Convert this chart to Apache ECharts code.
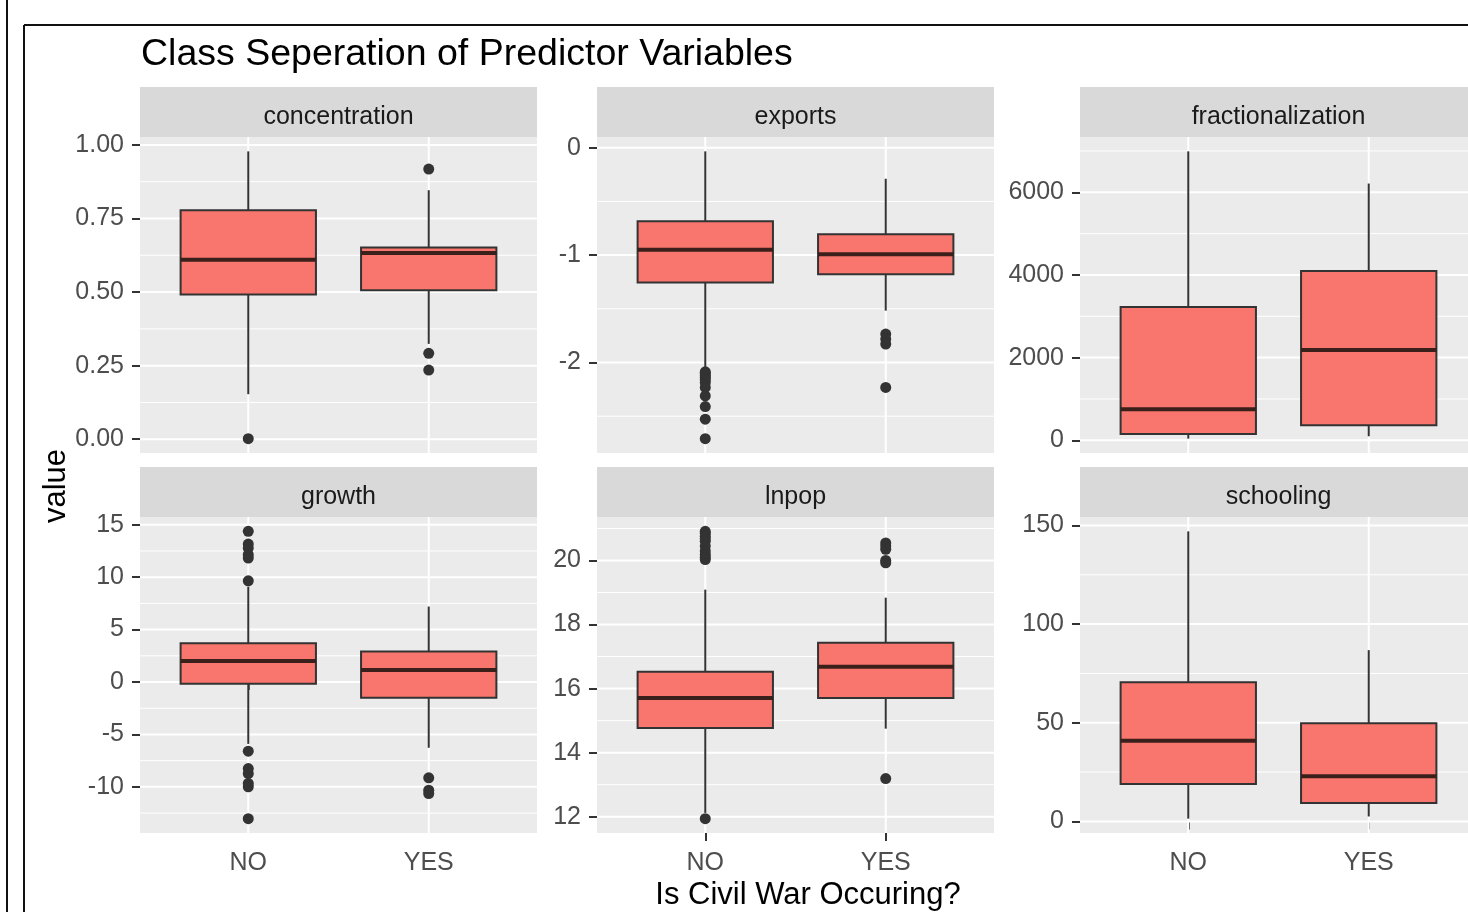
<!DOCTYPE html>
<html>
<head>
<meta charset="utf-8">
<script src="https://cdn.jsdelivr.net/npm/echarts@6/dist/echarts.min.js"></script>
<style>
  html, body { margin: 0; padding: 0; background: #ffffff; }
  #chart { width: 1468px; height: 912px; }
</style>
</head>
<body>
<div id="chart"></div>
<script>
// Group labels on the x axis
const CATEGORIES = ['NO', 'YES'];

// Facet names
const PANEL_NAMES = ['concentration', 'exports', 'fractionalization', 'growth', 'lnpop', 'schooling'];

// Box statistics per group: [lower whisker, Q1, median, Q3, upper whisker]
const concentrationNo  = [0.153, 0.492, 0.610, 0.778, 0.978];
const concentrationYes = [0.324, 0.506, 0.633, 0.651, 0.846];
const exportsNo  = [-2.06, -1.256, -0.951, -0.684, -0.034];
const exportsYes = [-1.517, -1.178, -0.992, -0.805, -0.289];
const fractionalizationNo  = [40, 153, 748, 3223, 6990];
const fractionalizationYes = [97, 365, 2185, 4093, 6212];
const growthNo  = [-5.9, -0.16, 2.0, 3.70, 9.1];
const growthYes = [-6.27, -1.5, 1.14, 2.9, 7.2];
const lnpopNo  = [12.12, 14.77, 15.71, 16.53, 19.09];
const lnpopYes = [14.75, 15.71, 16.68, 17.43, 18.84];
const schoolingNo  = [1.4, 18.9, 40.9, 70.5, 147];
const schoolingYes = [2.5, 9.3, 22.9, 49.8, 86.8];

// Outlying observations per group
const concentrationNoOut  = [0.002];
const concentrationYesOut = [0.918, 0.292, 0.235];
const exportsNoOut  = [-2.087, -2.10, -2.12, -2.139, -2.16, -2.186, -2.232, -2.311, -2.410, -2.528, -2.709];
const exportsYesOut = [-1.735, -1.782, -1.828, -2.232];
const fractionalizationNoOut  = [];
const fractionalizationYesOut = [];
const growthNoOut  = [14.37, 13.16, 12.78, 12.14, 11.82, 9.65, -6.6, -8.25, -8.73, -9.68, -10.0, -13.03];
const growthYesOut = [-9.14, -10.32, -10.64];
const lnpopNoOut  = [20.91, 20.85, 20.76, 20.68, 20.60, 20.45, 20.30, 20.19, 20.10, 20.03, 11.94];
const lnpopYesOut = [20.55, 20.45, 20.35, 20.0, 19.93, 13.19];
const schoolingNoOut  = [];
const schoolingYesOut = [];

// Y axis tick values per facet
const concentrationTicks = [0, 0.25, 0.5, 0.75, 1];
const exportsTicks = [-2, -1, 0];
const fractionalizationTicks = [0, 2000, 4000, 6000];
const growthTicks = [-10, -5, 0, 5, 10, 15];
const lnpopTicks = [12, 14, 16, 18, 20];
const schoolingTicks = [0, 50, 100, 150];

// Text
const TITLE = 'Class Seperation of Predictor Variables';
const X_TITLE = 'Is Civil War Occuring?';
const Y_TITLE = 'value';

const panels = [
  { boxes: [concentrationNo, concentrationYes], outliers: [concentrationNoOut, concentrationYesOut], ticks: concentrationTicks, fmt: v => v.toFixed(2) },
  { boxes: [exportsNo, exportsYes], outliers: [exportsNoOut, exportsYesOut], ticks: exportsTicks, fmt: v => String(v) },
  { boxes: [fractionalizationNo, fractionalizationYes], outliers: [fractionalizationNoOut, fractionalizationYesOut], ticks: fractionalizationTicks, fmt: v => String(v) },
  { boxes: [growthNo, growthYes], outliers: [growthNoOut, growthYesOut], ticks: growthTicks, fmt: v => String(v) },
  { boxes: [lnpopNo, lnpopYes], outliers: [lnpopNoOut, lnpopYesOut], ticks: lnpopTicks, fmt: v => String(v) },
  { boxes: [schoolingNo, schoolingYes], outliers: [schoolingNoOut, schoolingYesOut], ticks: schoolingTicks, fmt: v => String(v) }
];

// Layout and style
const FONT = "'Liberation Sans', Arial, sans-serif";
const COL_LEFT = [140, 597, 1080];
const PANEL_W = 397;
const ROW_STRIP_TOP = [87, 467];
const STRIP_H = 50;
const PLOT_H = 316;
const X_MIN = 0.4, X_MAX = 2.6;
const BOX_HALF = 0.375;
const FILL = '#F8766D';
const EDGE = '#333333';
const MEDIAN = '#3b1f1b';
const PANEL_BG = '#EBEBEB';
const STRIP_BG = '#D9D9D9';
const AXIS_TEXT = '#4D4D4D';

function yExtent(p) {
  const vals = [].concat(p.boxes[0], p.boxes[1], p.outliers[0], p.outliers[1]);
  const lo = Math.min.apply(null, vals), hi = Math.max.apply(null, vals);
  const pad = (hi - lo) * 0.05;
  return [lo - pad, hi + pad];
}

function gridLineData(ticks, ext) {
  const out = [];
  const step = ticks[1] - ticks[0];
  ticks.forEach(t => out.push([0, t]));
  const minors = [ticks[0] - step / 2];
  for (let i = 0; i < ticks.length - 1; i++) minors.push((ticks[i] + ticks[i + 1]) / 2);
  minors.push(ticks[ticks.length - 1] + step / 2);
  minors.filter(m => m > ext[0] && m < ext[1]).forEach(m => out.push([1, m]));
  [1, 2].forEach(x => out.push([2, x]));
  return out;
}

const grids = [], xAxes = [], yAxes = [], series = [], graphics = [];

panels.forEach((p, i) => {
  const row = Math.floor(i / 3), col = i % 3;
  const left = COL_LEFT[col];
  const stripTop = ROW_STRIP_TOP[row];
  const top = stripTop + STRIP_H;
  const ext = yExtent(p);

  grids.push({
    left: left, top: top, width: PANEL_W, height: PLOT_H,
    show: true, backgroundColor: PANEL_BG, borderWidth: 0,
    containLabel: false, outerBoundsMode: 'none'
  });

  xAxes.push({
    type: 'value', gridIndex: i, min: X_MIN, max: X_MAX,
    axisLine: { show: false },
    splitLine: { show: false },
    axisTick: { show: row === 1, customValues: [1, 2], length: 8, lineStyle: { color: EDGE, width: 2 } },
    axisLabel: {
      show: row === 1, customValues: [1, 2], margin: 18,
      formatter: v => CATEGORIES[Math.round(v) - 1],
      color: AXIS_TEXT, fontSize: 25, fontFamily: FONT
    }
  });

  yAxes.push({
    type: 'value', gridIndex: i, min: ext[0], max: ext[1],
    axisLine: { show: false },
    splitLine: { show: false },
    axisTick: { show: true, customValues: p.ticks, length: 8, lineStyle: { color: EDGE, width: 2 } },
    axisLabel: {
      customValues: p.ticks, margin: 16, formatter: p.fmt,
      color: AXIS_TEXT, fontSize: 25, fontFamily: FONT
    }
  });

  // white panel grid (major + minor)
  series.push({
    type: 'custom', xAxisIndex: i, yAxisIndex: i, z: 1, silent: true, clip: true,
    data: gridLineData(p.ticks, ext),
    renderItem: (params, api) => {
      const kind = api.value(0), v = api.value(1);
      let a, b;
      if (kind === 2) { a = api.coord([v, ext[0]]); b = api.coord([v, ext[1]]); }
      else { a = api.coord([X_MIN, v]); b = api.coord([X_MAX, v]); }
      return {
        type: 'line',
        shape: { x1: a[0], y1: a[1], x2: b[0], y2: b[1] },
        style: { stroke: '#ffffff', lineWidth: kind === 1 ? 1 : 2 }
      };
    }
  });

  // boxes
  series.push({
    type: 'custom', xAxisIndex: i, yAxisIndex: i, z: 2, silent: true,
    encode: { x: 0, y: [1, 2, 3, 4, 5] },
    data: p.boxes.map((b, k) => [k + 1].concat(b)),
    renderItem: (params, api) => {
      const x = api.value(0);
      const low = api.value(1), q1 = api.value(2), med = api.value(3), q3 = api.value(4), high = api.value(5);
      const pl = api.coord([x, low]), p1 = api.coord([x, q1]);
      const p3 = api.coord([x, q3]), ph = api.coord([x, high]);
      const tl = api.coord([x - BOX_HALF, q3]), br = api.coord([x + BOX_HALF, q1]);
      const ml = api.coord([x - BOX_HALF, med]), mr = api.coord([x + BOX_HALF, med]);
      return {
        type: 'group',
        children: [
          { type: 'line', shape: { x1: pl[0], y1: pl[1], x2: p1[0], y2: p1[1] }, style: { stroke: EDGE, lineWidth: 2 } },
          { type: 'line', shape: { x1: p3[0], y1: p3[1], x2: ph[0], y2: ph[1] }, style: { stroke: EDGE, lineWidth: 2 } },
          { type: 'rect', shape: { x: tl[0], y: tl[1], width: br[0] - tl[0], height: br[1] - tl[1] }, style: { fill: FILL, stroke: EDGE, lineWidth: 2 } },
          { type: 'line', shape: { x1: ml[0], y1: ml[1], x2: mr[0], y2: mr[1] }, style: { stroke: MEDIAN, lineWidth: 4 } }
        ]
      };
    }
  });

  // outliers
  const pts = [];
  p.outliers.forEach((arr, k) => arr.forEach(v => pts.push([k + 1, v])));
  series.push({
    type: 'scatter', xAxisIndex: i, yAxisIndex: i, z: 3, silent: true,
    symbol: 'circle', symbolSize: 11,
    itemStyle: { color: EDGE, opacity: 1 },
    data: pts
  });

  // facet strip
  graphics.push({
    type: 'rect', left: left, top: stripTop, silent: true,
    shape: { width: PANEL_W, height: STRIP_H },
    style: { fill: STRIP_BG }
  });
  graphics.push({
    type: 'text', x: left + PANEL_W / 2, y: stripTop + 30, silent: true,
    style: {
      text: PANEL_NAMES[i], fill: '#1A1A1A', fontSize: 25, fontFamily: FONT,
      textAlign: 'center', textVerticalAlign: 'middle'
    }
  });
});

// title, axis titles and outer frame
graphics.push({
  type: 'text', x: 141, y: 55, silent: true,
  style: { text: TITLE, fill: '#000000', fontSize: 37.5, fontFamily: FONT, textAlign: 'left', textVerticalAlign: 'middle' }
});
graphics.push({
  type: 'text', x: 808, y: 895, silent: true,
  style: { text: X_TITLE, fill: '#000000', fontSize: 31, fontFamily: FONT, textAlign: 'center', textVerticalAlign: 'middle' }
});
graphics.push({
  type: 'text', x: 56, y: 486, rotation: Math.PI / 2, silent: true,
  style: { text: Y_TITLE, fill: '#000000', fontSize: 31, fontFamily: FONT, textAlign: 'center', textVerticalAlign: 'middle' }
});
graphics.push({ type: 'line', silent: true, shape: { x1: 7, y1: 0, x2: 7, y2: 912 }, style: { stroke: '#111111', lineWidth: 2 } });
graphics.push({ type: 'line', silent: true, shape: { x1: 24, y1: 25, x2: 24, y2: 912 }, style: { stroke: '#111111', lineWidth: 2 } });
graphics.push({ type: 'line', silent: true, shape: { x1: 24, y1: 25, x2: 1468, y2: 25 }, style: { stroke: '#111111', lineWidth: 2 } });

const chart = echarts.init(document.getElementById('chart'), null, { renderer: 'canvas' });
chart.setOption({
  animation: false,
  backgroundColor: '#ffffff',
  grid: grids,
  xAxis: xAxes,
  yAxis: yAxes,
  series: series,
  graphic: { elements: graphics }
});
</script>
</body>
</html>
